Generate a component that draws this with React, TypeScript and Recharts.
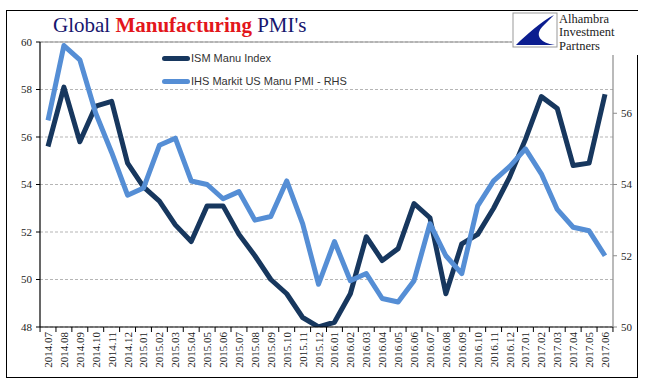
import { LineChart, Line, XAxis, YAxis, CartesianGrid, ReferenceLine } from 'recharts'

const months = [
  '2014.07', '2014.08', '2014.09', '2014.10', '2014.11', '2014.12',
  '2015.01', '2015.02', '2015.03', '2015.04', '2015.05', '2015.06',
  '2015.07', '2015.08', '2015.09', '2015.10', '2015.11', '2015.12',
  '2016.01', '2016.02', '2016.03', '2016.04', '2016.05', '2016.06',
  '2016.07', '2016.08', '2016.09', '2016.10', '2016.11', '2016.12',
  '2017.01', '2017.02', '2017.03', '2017.04', '2017.05', '2017.06',
]

// ISM Manu Index (left axis)
const ism = [
  55.6, 58.1, 55.8, 57.3, 57.5, 54.9, 53.9, 53.3, 52.3, 51.6, 53.1, 53.1,
  51.9, 51.0, 50.0, 49.4, 48.4, 48.0, 48.2, 49.4, 51.8, 50.8, 51.3, 53.2,
  52.6, 49.4, 51.5, 51.9, 53.0, 54.3, 55.9, 57.7, 57.2, 54.8, 54.9, 57.8,
]

// IHS Markit US Manu PMI (right axis)
const ihs = [
  55.8, 57.9, 57.5, 56.0, 54.9, 53.7, 53.9, 55.1, 55.3, 54.1, 54.0, 53.6,
  53.8, 53.0, 53.1, 54.1, 52.9, 51.2, 52.4, 51.3, 51.5, 50.8, 50.7, 51.3,
  52.9, 52.0, 51.5, 53.4, 54.1, 54.5, 55.0, 54.3, 53.3, 52.8, 52.7, 52.0,
]

const leftTicks = [48, 50, 52, 54, 56, 58, 60]
const rightTicks = [50, 52, 54, 56]

const data = months.map((m, i) => ({ month: m, ism: ism[i], ihs: ihs[i] }))

const ISM_COLOR = '#17375E'
const IHS_COLOR = '#558ED5'
const SERIF = '"Liberation Serif", "Times New Roman", serif'
const SANS = '"Liberation Sans", Arial, sans-serif'

// plot spans x 40..613, point scale with 8px padding each side
const STEP = (573 - 16) / 35

function MonthTick(props: any) {
  const { x, y, payload } = props
  const last = payload.value === months[months.length - 1]
  return (
    <g transform={`translate(${x},${y})`}>
      <line x1={-STEP / 2} x2={-STEP / 2} y1={0} y2={5} stroke="#000" />
      {last && <line x1={STEP / 2} x2={STEP / 2} y1={0} y2={5} stroke="#000" />}
      <text
        transform="rotate(-90)"
        x={-5}
        y={4}
        textAnchor="end"
        fontSize={11}
        fontFamily={SERIF}
        fill="#222"
      >
        {payload.value}
      </text>
    </g>
  )
}

function Logo() {
  return (
    <svg
      width={126}
      height={44}
      style={{ position: 'absolute', left: 512, top: 11 }}
    >
      <rect x={0} y={0} width={126} height={44} fill="#fff" />
      <rect x={1} y={2} width={44} height={34} fill="#fff" stroke="#999" />
      <path
        d="M 42 4 C 30 10, 14 24, 4 34 L 43 34 C 28 32, 22 24, 31 15 Z"
        fill="#0b1d8f"
      />
      <text x={47} y={11.5} fontSize={12.5} fontFamily={SERIF} fill="#222">Alhambra</text>
      <text x={47} y={25} fontSize={12.5} fontFamily={SERIF} fill="#222">Investment</text>
      <text x={47} y={38.5} fontSize={12.5} fontFamily={SERIF} fill="#222">Partners</text>
    </svg>
  )
}

function LegendBox() {
  const items = [
    { label: 'ISM Manu Index', color: ISM_COLOR, top: 52 },
    { label: 'IHS Markit US Manu PMI - RHS', color: IHS_COLOR, top: 75 },
  ]
  return (
    <>
      {items.map((it) => (
        <div
          key={it.label}
          style={{
            position: 'absolute',
            left: 162,
            top: it.top,
            display: 'flex',
            alignItems: 'center',
            fontFamily: SANS,
            fontSize: 11,
            color: '#333',
            lineHeight: '12px',
          }}
        >
          <span
            style={{
              display: 'inline-block',
              width: 28,
              height: 5,
              borderRadius: 3,
              background: it.color,
              marginRight: 1,
            }}
          />
          {it.label}
        </div>
      ))}
    </>
  )
}

export default function App() {
  return (
    <div style={{ position: 'relative', width: 646, height: 392, background: '#fff' }}>
      <style>{'body{margin:0}'}</style>
      <div
        style={{
          position: 'absolute',
          left: 6,
          top: 10,
          width: 630,
          height: 366,
          border: '1.5px solid #000',
        }}
      />
      <LineChart
        width={646}
        height={392}
        data={data}
        margin={{ top: 42, right: 5, bottom: 15, left: 10 }}
        style={{ position: 'absolute', left: 0, top: 0 }}
      >
        <CartesianGrid
          yAxisId="left"
          vertical={false}
          stroke="#b5b5b5"
          strokeDasharray="3 2"
        />
        <ReferenceLine yAxisId="left" y={60} stroke="#8c8c8c" strokeWidth={1.2} />
        <XAxis
          dataKey="month"
          interval={0}
          height={50}
          padding={{ left: 8, right: 8 }}
          tickLine={false}
          tickSize={0}
          tickMargin={0}
          axisLine={{ stroke: '#000', strokeWidth: 1.2 }}
          tick={<MonthTick />}
        />
        <YAxis
          yAxisId="left"
          domain={[48, 60]}
          ticks={leftTicks}
          width={30}
          tickSize={4}
          tickMargin={4}
          axisLine={{ stroke: '#000', strokeWidth: 1.2 }}
          tickLine={{ stroke: '#000' }}
          tick={{ fontSize: 11, fontFamily: SERIF, fill: '#222' }}
          allowDataOverflow
        />
        <YAxis
          yAxisId="right"
          orientation="right"
          domain={[50, 58]}
          ticks={rightTicks}
          width={28}
          tickSize={4}
          tickMargin={4}
          axisLine={{ stroke: '#8c8c8c', strokeWidth: 1.2 }}
          tickLine={{ stroke: '#8c8c8c' }}
          tick={{ fontSize: 11, fontFamily: SERIF, fill: '#222' }}
          allowDataOverflow
        />
        <Line
          yAxisId="left"
          dataKey="ism"
          stroke={ISM_COLOR}
          strokeWidth={5}
          strokeLinejoin="round"
          dot={false}
          activeDot={false}
          isAnimationActive={false}
        />
        <Line
          yAxisId="right"
          dataKey="ihs"
          stroke={IHS_COLOR}
          strokeWidth={5}
          strokeLinejoin="round"
          dot={false}
          activeDot={false}
          isAnimationActive={false}
        />
      </LineChart>
      <div
        style={{
          position: 'absolute',
          left: 53,
          top: 12,
          fontFamily: SERIF,
          fontSize: 21,
          color: '#16166e',
          whiteSpace: 'nowrap',
          lineHeight: '26px',
        }}
      >
        Global <span style={{ color: '#e3161b', fontWeight: 'bold' }}>Manufacturing</span> PMI's
      </div>
      <LegendBox />
      <Logo />
    </div>
  )
}
